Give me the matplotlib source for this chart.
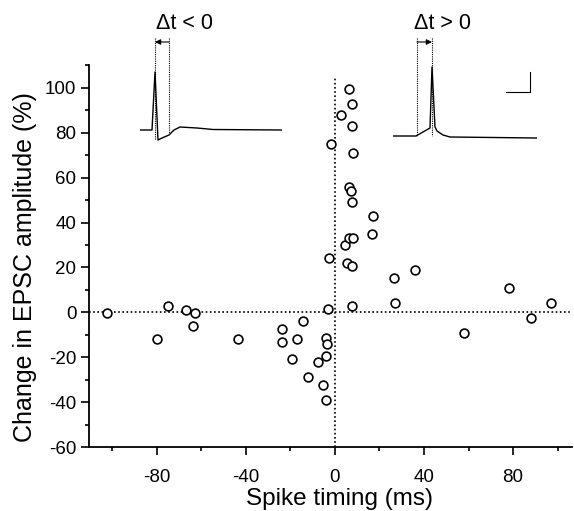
import numpy as np
import matplotlib
matplotlib.use("Agg")
import matplotlib.pyplot as plt
from matplotlib.ticker import MultipleLocator

plt.rcParams['font.family'] = ['Liberation Sans', 'DejaVu Sans']
plt.rcParams['axes.unicode_minus'] = False

# spike timing (ms) and change in EPSC amplitude (%)
spike_timing = [
    -102.5, -80, -75, -67, -63, -64, -43.5,
    -23.8, -23.8, -19.3, -17, -14.4, -12, -7.6, -5.4, -4, -4, -4, -3.6, -3,
    -2.7, -1.8, 2.7, 4.5, 5.4, 6.3, 6.3, 6.3, 7.2, 7.6, 7.6, 7.6, 7.6, 7.6,
    8, 8,
    16.6, 17, 26.5, 27, 36, 58, 78, 88, 97,
]
epsc_change = [
    -0.5, -12, 3, 1, -0.5, -6, -11.7,
    -7.5, -13.2, -21, -12, -4, -29, -22, -32.4, -39, -19.6, -11.6, -14.2, 1.5,
    24, 75, 88, 30, 21.8, 99.5, 56, 33, 54, 93, 83, 49, 20.5, 3,
    71, 33,
    35, 43, 15.5, 4, 19, -9.3, 11, -2.4, 4,
]

# example traces (inset): time offset and voltage above baseline, arbitrary units
trace_neg_t = [0, 12, 15, 18, 22, 29, 34, 40, 57, 73, 142]
trace_neg_v = [0, 0, 58, -10, -8, -5, 0, 3, 2, 0.5, 0]
trace_pos_t = [0, 23, 37, 39, 42, 44, 47, 50, 57, 144]
trace_pos_v = [0, 0, 8, 69, 9, 5, 3, 1, -1, -2]

W, H = 574, 511
fig = plt.figure(figsize=(W / 100, H / 100), dpi=100)

ax = fig.add_axes([89 / W, 1 - 447 / H, 483 / W, 381.5 / H])
ax.scatter(spike_timing, epsc_change, s=40, facecolors='white',
           edgecolors='black', linewidths=1.2, zorder=3)

ax.axhline(0, color='black', lw=1.2, ls=(0, (1, 1.5)), zorder=1)
ax.plot([0, 0], [-60, 105], color='black', lw=1.2, ls=(0, (1, 1.5)), zorder=1)

ax.set_xlim(-110.5, 106.5)
ax.set_ylim(-60, 110)
ax.spines['top'].set_visible(False)
ax.spines['right'].set_visible(False)
ax.spines['left'].set_linewidth(1.3)
ax.spines['bottom'].set_linewidth(1.3)

ax.xaxis.set_major_locator(MultipleLocator(40))
ax.xaxis.set_minor_locator(MultipleLocator(20))
ax.yaxis.set_major_locator(MultipleLocator(20))
ax.yaxis.set_minor_locator(MultipleLocator(10))
ax.tick_params(which='major', length=6, width=1.2, labelsize=13.5)
ax.tick_params(which='minor', length=3, width=1.2)
ax.tick_params(axis='x', which='major', pad=9.5)
ax.tick_params(axis='y', which='major', pad=3)

ax.set_xlabel("Spike timing (ms)", fontsize=17.5)
ax.set_ylabel("Change in EPSC amplitude (%)", fontsize=18)
ax.xaxis.set_label_coords(0.518, -0.108)
ax.yaxis.set_label_coords(-0.108, 0.472)


def inset(x0, y0, x1, y1, xlim, ylim):
    a = fig.add_axes([x0 / W, 1 - y1 / H, (x1 - x0) / W, (y1 - y0) / H])
    a.set_xlim(*xlim)
    a.set_ylim(*ylim)
    a.axis('off')
    return a


dot = dict(color='black', lw=0.8, ls=(0, (1, 1)))

# left inset: dt < 0
a1 = inset(140, 38, 282, 142, (0, 142), (-12, 92))
a1.plot(trace_neg_t, trace_neg_v, color='black', lw=1.0)
a1.plot([15, 15], [92, -10], **dot)
a1.plot([29, 29], [92, -3], **dot)
a1.annotate('', xy=(15, 88), xytext=(29, 88),
            arrowprops=dict(arrowstyle='-|>', color='black', lw=0.8,
                            mutation_scale=8, shrinkA=0, shrinkB=0))
fig.text(185 / W, 1 - 23 / H, "\u0394t < 0", ha='center', va='center',
         fontsize=15.5)

# right inset: dt > 0
a2 = inset(393, 38, 537, 140, (0, 144), (-4, 98))
a2.plot(trace_pos_t, trace_pos_v, color='black', lw=1.0)
a2.plot([24, 24], [98, 0], **dot)
a2.plot([39, 39], [98, 0], **dot)
a2.annotate('', xy=(39, 94), xytext=(24, 94),
            arrowprops=dict(arrowstyle='-|>', color='black', lw=0.8,
                            mutation_scale=8, shrinkA=0, shrinkB=0))
a2.plot([113, 137, 137], [44, 44, 64], color='black', lw=0.8)
fig.text(443 / W, 1 - 23 / H, "\u0394t > 0", ha='center', va='center',
         fontsize=15.5)

fig.savefig("out.png", dpi=100)
